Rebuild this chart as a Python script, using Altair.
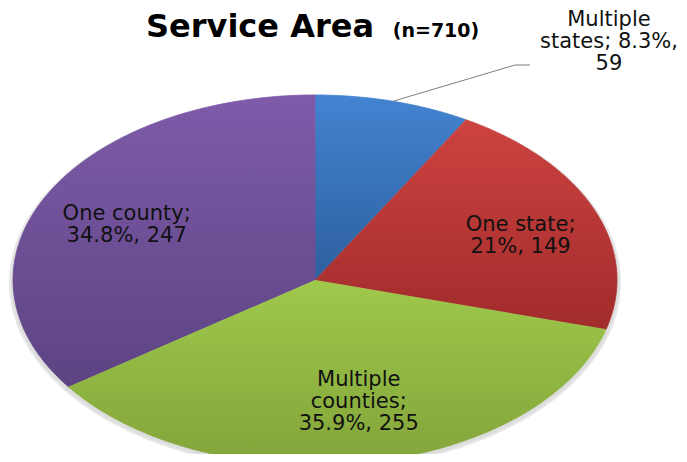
import altair as alt
import pandas as pd

# ---- data ----
categories = ["Multiple states", "One state", "Multiple counties", "One county"]
counts = [59, 149, 255, 247]
percents = ["8.3%", "21%", "35.9%", "34.8%"]
labels = [
    "Multiple\nstates; 8.3%,\n59",
    "One state;\n21%, 149",
    "Multiple\ncounties;\n35.9%, 255",
    "One county;\n34.8%, 247",
]
title_main = ["Service Area"]
title_n = ["(n=710)"]

# ---- styles ----
top_colors = ["#4383d1", "#cd4340", "#9fc94c", "#7f5ba9"]
bottom_colors = ["#2d609e", "#a12b2b", "#83a43a", "#5c4383"]
label_r = [1.0, 0.65, 0.65, 0.65]
label_dx = [216, 24, 10, -14]
label_dy = [-81, -9, -18, -11]
N = 120

df = pd.DataFrame({"category": categories, "count": counts, "label": labels,
                   "idx": list(range(len(categories)))})

xs = alt.Scale(domain=[-1.0166, 1.2053], nice=False, zero=False)
ys = alt.Scale(domain=[-0.9406, 1.4486], nice=False, zero=False)

base = (
    alt.Chart(df)
    .transform_joinaggregate(total="sum(count)")
    .transform_window(cum="sum(count)", sort=[alt.SortField("idx")], frame=[None, 0])
    .transform_calculate(
        start="2*PI*(datum.cum - datum.count)/datum.total",
        end="2*PI*datum.cum/datum.total",
    )
)

wedge = (
    base.transform_calculate(step=f"sequence(0, {N + 2})")
    .transform_flatten(["step"])
    .transform_calculate(
        theta=f"datum.start + (datum.end - datum.start) * min(datum.step, {N}) / {N}",
        px=f"datum.step > {N} ? 0 : sin(datum.theta)",
        py=f"datum.step > {N} ? 0 : cos(datum.theta)",
    )
)

layers = []

# soft shadow behind the pie
shadow = (
    wedge.transform_calculate(sx="datum.px*1.01", sy="datum.py*1.01 - 0.014")
    .mark_line(fill="#c8c8c8", stroke="#d8d8d8", strokeWidth=2, opacity=0.6, clip=True)
    .encode(x=alt.X("sx:Q", scale=xs, axis=None), y=alt.Y("sy:Q", scale=ys, axis=None),
            detail="category:N", order="step:Q")
)
layers.append(shadow)

for i, cat in enumerate(categories):
    grad = alt.LinearGradient(
        gradient="linear",
        stops=[alt.GradientStop(color=top_colors[i], offset=0),
               alt.GradientStop(color=bottom_colors[i], offset=1)],
        x1=0, x2=0, y1=0, y2=1,
    )
    layers.append(
        wedge.transform_filter(alt.datum.category == cat)
        .mark_line(fill=grad, stroke=grad, strokeWidth=0.8, clip=True)
        .encode(x=alt.X("px:Q", scale=xs, axis=None), y=alt.Y("py:Q", scale=ys, axis=None),
                order="step:Q")
    )

lab = base.transform_calculate(mid="(datum.start + datum.end)/2")

# leader line for the outside label
leader = (
    lab.transform_filter(alt.datum.idx == 0)
    .transform_calculate(lx="sin(datum.mid)", ly="cos(datum.mid)")
    .mark_rule(color="#808080", strokeWidth=1)
    .encode(x=alt.X("lx:Q", scale=xs, axis=None), y=alt.Y("ly:Q", scale=ys, axis=None),
            x2=alt.value(507), y2=alt.value(53))
)
leader2 = (
    lab.transform_filter(alt.datum.idx == 0)
    .mark_rule(color="#808080", strokeWidth=1)
    .encode(x=alt.value(507), x2=alt.value(522), y=alt.value(53))
)
layers += [leader, leader2]

for i in range(len(categories)):
    layers.append(
        lab.transform_filter(alt.datum.idx == i)
        .transform_calculate(lx=f"{label_r[i]}*sin(datum.mid)", ly=f"{label_r[i]}*cos(datum.mid)")
        .mark_text(font="DejaVu Sans", fontSize=21, lineHeight=22, lineBreak="\n",
                   align="center", baseline="middle", color="#111111",
                   dx=label_dx[i], dy=label_dy[i])
        .encode(x=alt.X("lx:Q", scale=xs, axis=None), y=alt.Y("ly:Q", scale=ys, axis=None),
                text="label:N")
    )

t1 = (
    alt.Chart(pd.DataFrame({"t": title_main}))
    .mark_text(font="DejaVu Sans", fontSize=32, fontWeight="bold", align="center",
               baseline="alphabetic", color="#000000")
    .encode(x=alt.value(252), y=alt.value(25), text="t:N")
)
t2 = (
    alt.Chart(pd.DataFrame({"t": title_n}))
    .mark_text(font="DejaVu Sans", fontSize=19, fontWeight="bold", align="center",
               baseline="alphabetic", color="#000000")
    .encode(x=alt.value(428), y=alt.value(25), text="t:N")
)
layers += [t1, t2]

chart = (
    alt.layer(*layers)
    .properties(width=671, height=442,
                padding={"top": 4, "left": 0, "right": 0, "bottom": 0},
                autosize=alt.AutoSizeParams(type="none"),
                background="white")
    .configure_view(stroke=None)
)

chart.save("out.html", embed_options={"renderer": "svg", "actions": False})
